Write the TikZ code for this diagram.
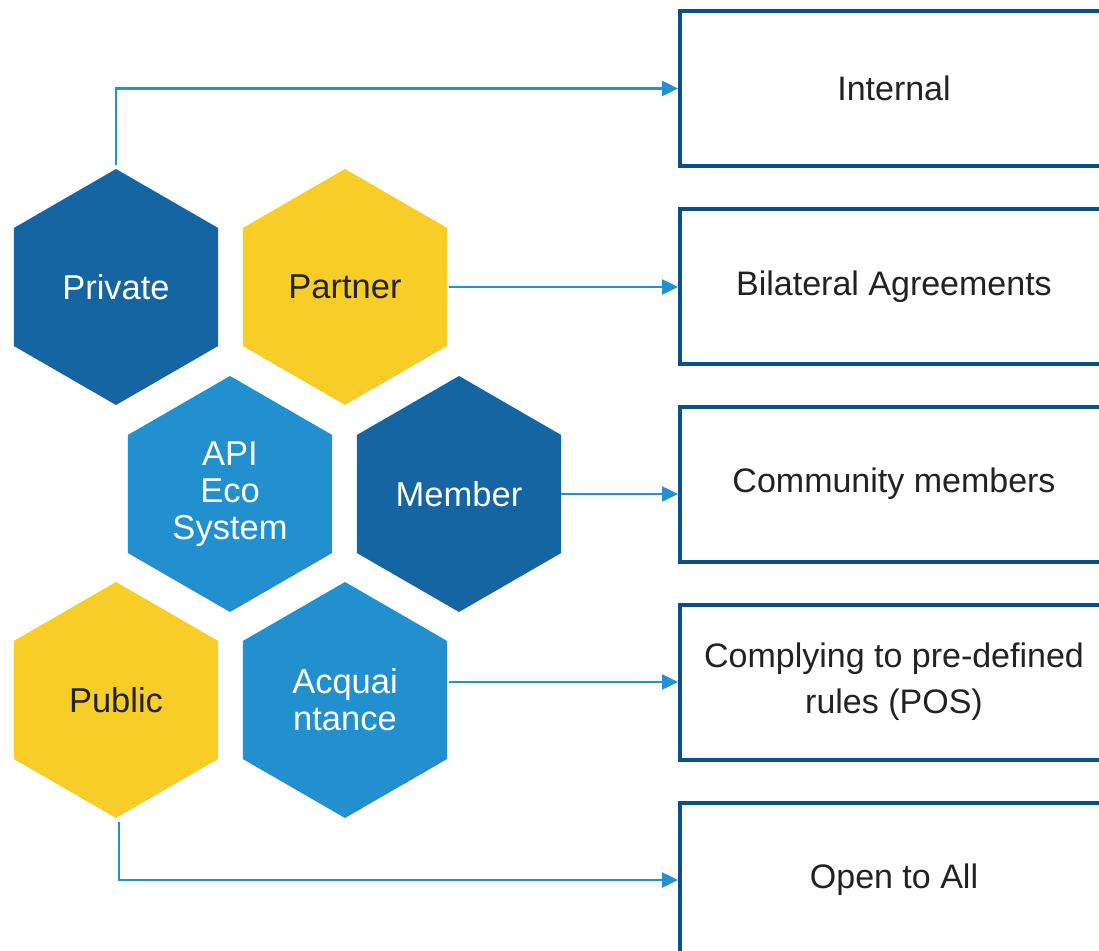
\documentclass[tikz,border=0pt]{standalone}
\usepackage{fontspec}
\setmainfont{Liberation Sans}
\usetikzlibrary{shapes.geometric,arrows.meta}

\definecolor{hexdark}{RGB}{21,101,162}
\definecolor{hexlight}{RGB}{34,144,207}
\definecolor{hexyellow}{RGB}{248,205,39}
\definecolor{boxnavy}{RGB}{11,79,136}
\definecolor{linkblue}{RGB}{34,145,209}
\definecolor{textdark}{RGB}{34,34,34}

\tikzset{
	hexcell/.style={regular polygon, regular polygon sides=6, shape border rotate=30,
		minimum size=236pt, inner sep=0pt, align=center,
		font=\fontsize{34.5}{37}\selectfont},
	darkcell/.style={hexcell, fill=hexdark, text=white},
	lightcell/.style={hexcell, fill=hexlight, text=white},
	yellowcell/.style={hexcell, fill=hexyellow, text=textdark},
	levelbox/.style={draw=boxnavy, line width=4pt, fill=white, minimum width=428pt,
		minimum height=155pt, align=center, text=textdark,
		font=\fontsize{34}{46}\selectfont},
	conn/.style={draw=linkblue, line width=2.5pt,
		-{Triangle[length=16pt,width=15pt]}}
}

\begin{document}
\begin{tikzpicture}[x=1pt,y=-1pt]
			\useasboundingbox (0,0) rectangle (1099,950);

			\node[darkcell] at (116,287) (priv) {Private};
			\node[yellowcell] at (345,287) (part) {Partner};
			\node[lightcell] at (230,494) (eco) {API\\Eco\\System};
			\node[darkcell] at (459,494) (mem) {Member};
			\node[yellowcell] at (116,700) (pub) {Public};
			\node[lightcell] at (345,700) (acq) {Acquai\\ntance};

			\node[levelbox] at (894,88.5) (int) {Internal};
			\node[levelbox] at (894,286.5) (bil) {Bilateral Agreements};
			\node[levelbox] at (894,484) (comm) {Community members};
			\node[levelbox] at (894,682) (pos) {Complying to pre-defined\\rules (POS)};
			\node[levelbox] at (894,880) (open) {Open to All};

			\draw[conn] ([yshift=4pt]priv.north) |- (int.west);
			\draw[conn] ([xshift=2pt]part.east) -- (part.east -| bil.west);
			\draw[conn] (mem.east) -- (mem.east -| comm.west);
			\draw[conn] ([xshift=2pt]acq.east |- pos.west) -- (pos.west);
			\draw[conn] ([xshift=3pt,yshift=-4pt]pub.south) |- (open.west);
		\end{tikzpicture}
\end{document}
